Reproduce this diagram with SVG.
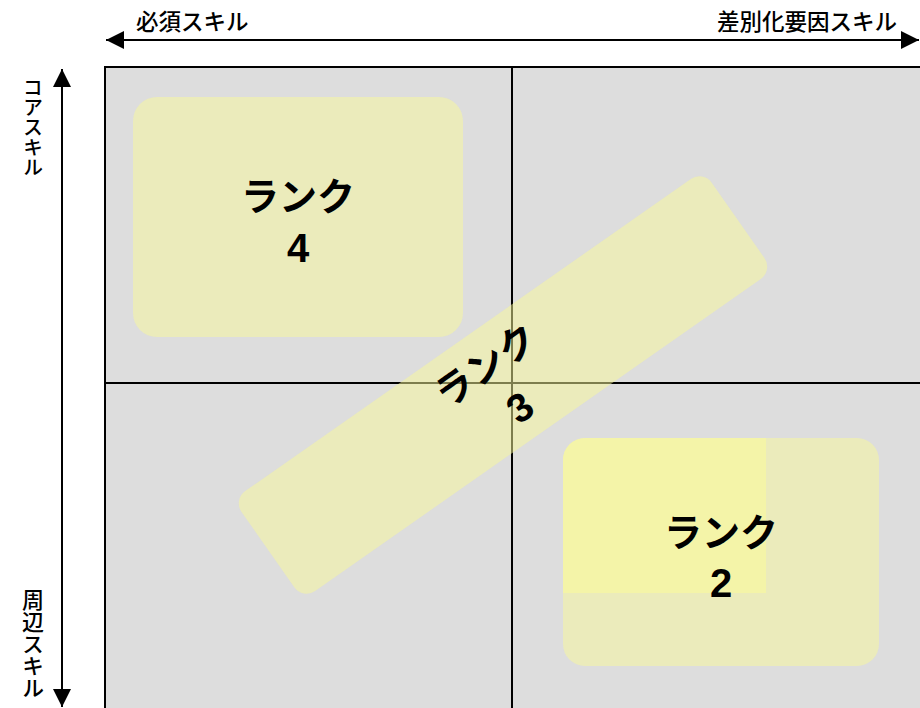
<svg xmlns="http://www.w3.org/2000/svg" width="920" height="708" viewBox="0 0 920 708">
  <style>
    .lbl { font-family: "Noto Sans CJK JP", "Liberation Sans", sans-serif; font-size: 22.5px; font-weight: 500; fill: #000; }
    .vlbl { font-family: "Noto Sans CJK JP", "Liberation Sans", sans-serif; font-weight: 500; fill: #000; writing-mode: vertical-rl; text-orientation: upright; }
    .rank { font-family: "Noto Sans CJK JP", "Liberation Sans", sans-serif; font-size: 38px; font-weight: bold; fill: #000; text-anchor: middle; }
    .num { font-family: "Liberation Sans", "Noto Sans CJK JP", sans-serif; font-size: 40px; font-weight: bold; fill: #000; text-anchor: middle; }
    .zone { fill: #fafa9a; fill-opacity: 0.5; }
    .axis { stroke: #000; stroke-width: 2; fill: none; }
  </style>
  <defs>
    <marker id="ahv" viewBox="0 0 10 10" refX="10" refY="5" markerWidth="18" markerHeight="18" markerUnits="userSpaceOnUse" orient="auto-start-reverse">
      <path d="M0,0 L10,5 L0,10 Z" fill="#000"/>
    </marker>
    <clipPath id="r2clip">
      <rect x="563" y="438" width="316" height="228" rx="22"/>
    </clipPath>
  </defs>

  <g id="grid">
    <rect x="105" y="67" width="820" height="645" fill="#dddddd" stroke="#000" stroke-width="2"/>
    <line x1="512" y1="67" x2="512" y2="708" stroke="#000" stroke-width="2"/>
    <line x1="105" y1="383" x2="920" y2="383" stroke="#000" stroke-width="2"/>
  </g>

  <g id="connectors">
    <line class="axis" x1="106" y1="40" x2="919" y2="40" marker-start="url(#ahv)" marker-end="url(#ahv)"/>
    <line class="axis" x1="62" y1="69" x2="62" y2="707" marker-start="url(#ahv)" marker-end="url(#ahv)"/>
  </g>

  <g id="axis-labels">
    <text class="lbl" x="136" y="30">必須スキル</text>
    <text class="lbl" x="897" y="30" text-anchor="end">差別化要因スキル</text>
    <text class="vlbl" x="33" y="77" font-size="20">コアスキル</text>
    <text class="vlbl" x="33" y="589" font-size="22">周辺スキル</text>
  </g>

  <g id="rank4">
    <rect class="zone" x="133" y="97" width="330" height="240" rx="24"/>
    <text class="rank" x="298" y="210">ランク</text>
    <text class="num" x="298" y="262">4</text>
  </g>

  <g id="rank2">
    <rect class="zone" x="563" y="438" width="316" height="228" rx="22"/>
    <rect x="563" y="438" width="203" height="155" fill="#f4f4a8" clip-path="url(#r2clip)"/>
    <text class="rank" x="721" y="546">ランク</text>
    <text class="num" x="721" y="597">2</text>
  </g>

  <g id="rank3" transform="translate(503,385) rotate(-35)">
    <rect class="zone" x="-287" y="-61" width="574" height="122" rx="15"/>
    <text class="rank" x="-3" y="-12">ランク</text>
    <text class="num" x="1" y="42">3</text>
  </g>
</svg>
